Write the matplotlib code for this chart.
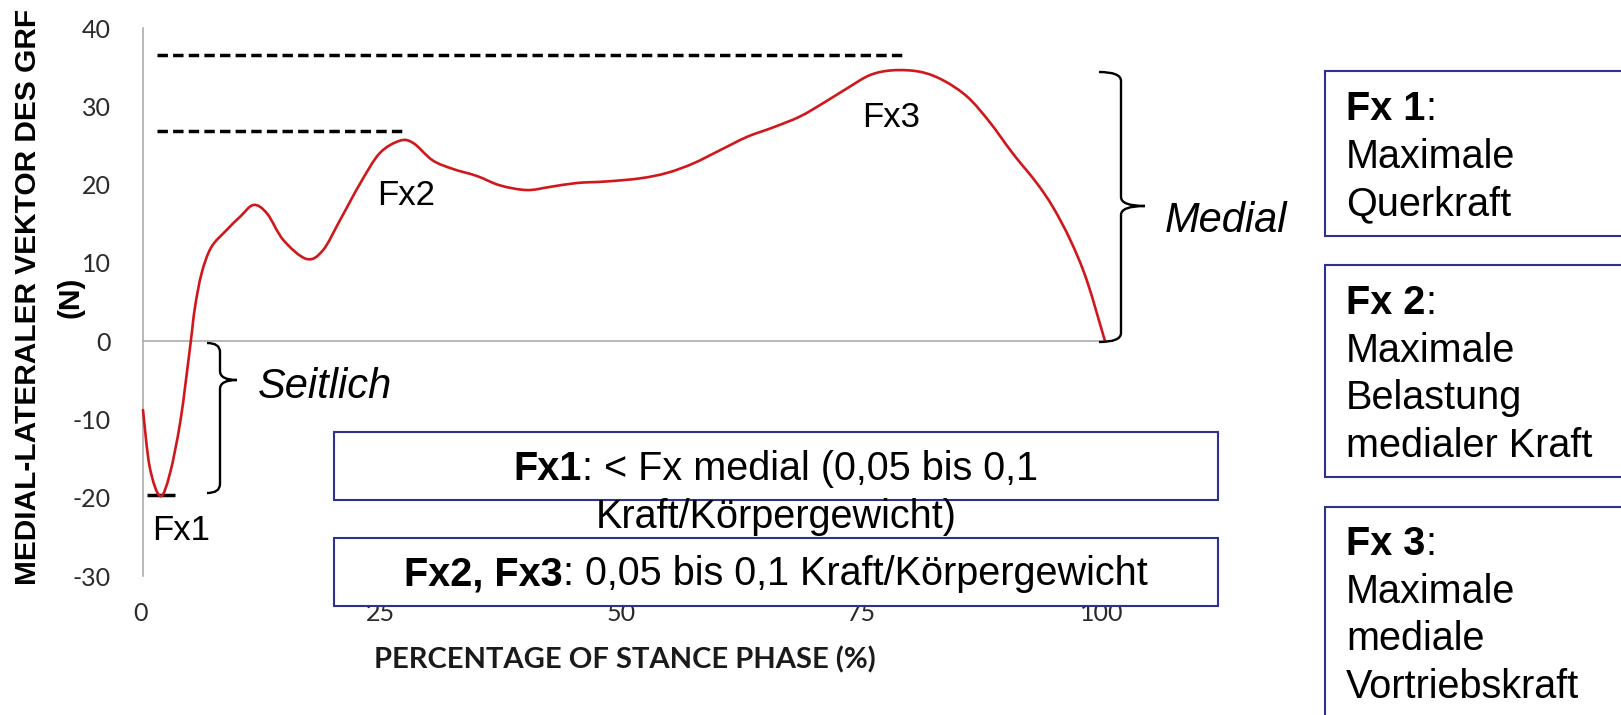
import matplotlib
matplotlib.use("Agg")
import matplotlib.pyplot as plt
import numpy as np
from matplotlib.patches import Rectangle, PathPatch
from matplotlib.path import Path
from matplotlib.transforms import Affine2D, ScaledTranslation

plt.rcParams["axes.unicode_minus"] = False

# Medial-lateral ground reaction force over the stance phase
stance_pct = [0.0, 0.7, 1.8, 2.8, 3.9, 4.9, 5.4, 6.1, 7.1, 8.7, 10.1, 11.5, 12.9,
              14.6, 17.0, 18.7, 20.5, 22.6, 24.6, 26.7, 28.1, 30.1, 32.2, 34.7,
              37.1, 39.9, 42.3, 45.1, 48.2, 51.7, 54.5, 57.2, 60.0, 62.8, 65.5,
              68.3, 70.7, 73.2, 75.6, 78.0, 80.8, 83.2, 85.7, 88.0, 90.4, 92.9,
              94.6, 96.4, 98.1, 100.0]
force_n = [-8.8, -16.1, -19.8, -16.9, -10.1, -0.7, 4.3, 8.7, 12.0, 14.2, 15.9, 17.4,
           16.3, 12.9, 10.5, 11.6, 15.5, 20.2, 24.0, 25.6, 25.3, 23.1, 22.0, 21.1,
           19.9, 19.3, 19.7, 20.2, 20.4, 20.8, 21.5, 22.7, 24.4, 26.1, 27.3,
           28.7, 30.4, 32.3, 34.0, 34.6, 34.4, 33.3, 31.2, 28.0, 24.0, 20.2,
           17.1, 12.9, 7.8, 0.0]

x_ticks = [0, 25, 50, 75, 100]
y_ticks = [-30, -20, -10, 0, 10, 20, 30, 40]

# Reference levels for the three peaks
fx1_level, fx1_span = -19.6, (0.4, 3.3)
fx2_level, fx2_span = 26.8, (1.5, 27.0)
fx3_level, fx3_span = 36.5, (1.5, 78.9)

y_label = "MEDIAL-LATERALER VEKTOR DES GRF"
y_unit = "(N)"
x_label = "PERCENTAGE OF STANCE PHASE (%)"

right_notes = [
    ("Fx 1", ["Maximale", "Querkraft"]),
    ("Fx 2", ["Maximale", "Belastung", "medialer Kraft"]),
    ("Fx 3", ["Maximale", "mediale", "Vortriebskraft"]),
]

W, H = 1621, 715
SANS = "Liberation Sans"
TICKFONT = "Lato"
RED = "#d0181c"
NAVY = "#2e3192"
GRAY = "#a6a6a6"

fig = plt.figure(figsize=(W / 100, H / 100), dpi=100)
fig.patch.set_facecolor("white")
renderer = fig.canvas.get_renderer()

# pixel (from top-left) -> figure fraction
pix = Affine2D().scale(1 / W, -1 / H).translate(0, 1) + fig.transFigure


def fxy(x, y):
    return x / W, 1 - y / H


ax = fig.add_axes([143 / W, 1 - 576 / H, 962 / W, 548 / H])
ax.set_xlim(0, 100)
ax.set_ylim(-30, 40)
for side in ("top", "right", "bottom"):
    ax.spines[side].set_visible(False)
ax.spines["left"].set_color(GRAY)
ax.spines["left"].set_linewidth(1.1)
ax.axhline(0, color=GRAY, lw=1.1, zorder=1)

ax.set_xticks(x_ticks)
ax.set_yticks(y_ticks)
ax.tick_params(axis="both", length=0, labelsize=18, labelcolor="#2a2a2a")
ax.tick_params(axis="y", pad=23)
ax.tick_params(axis="x", pad=19)
for lab in ax.get_xticklabels() + ax.get_yticklabels():
    lab.set_fontfamily(TICKFONT)
shift = ScaledTranslation(-3 / 100, 0, fig.dpi_scale_trans)
for lab in ax.get_xticklabels():
    lab.set_transform(lab.get_transform() + shift)


def smooth_path(xs, ys):
    """Smoothed line through the points (Catmull-Rom drawn as cubic Beziers)."""
    p = np.column_stack([xs, ys]).astype(float)
    n = len(p)
    verts, codes = [p[0]], [Path.MOVETO]
    for i in range(n - 1):
        p0 = p[i - 1] if i > 0 else p[i]
        p1, p2 = p[i], p[i + 1]
        p3 = p[i + 2] if i + 2 < n else p[i + 1]
        verts += [p1 + (p2 - p0) / 6, p2 - (p3 - p1) / 6, p2]
        codes += [Path.CURVE4] * 3
    return Path(verts, codes)


ax.add_patch(PathPatch(smooth_path(stance_pct, force_n), fill=False, edgecolor=RED,
                       lw=1.9, zorder=3, clip_on=False, capstyle="round", joinstyle="round"))

dash = (0, (3.0, 1.5))
ax.hlines(fx3_level, *fx3_span, color="black", lw=2.5, linestyles=[dash])
ax.hlines(fx2_level, *fx2_span, color="black", lw=2.5, linestyles=[dash])
ax.hlines(fx1_level, *fx1_span, color="black", lw=2.5)

# Peak labels
for s, x, y in [("Fx1", 152, 540), ("Fx2", 377, 205), ("Fx3", 862, 127)]:
    fig.text(*fxy(x, y), s, fontsize=25, family=SANS, va="baseline", ha="left")

fig.text(*fxy(258, 398), "Seitlich", fontsize=30, style="italic", family=SANS,
         va="baseline", ha="left")
fig.text(*fxy(1165, 232), "Medial", fontsize=30, style="italic", family=SANS,
         va="baseline", ha="left")


def brace(xa, xb, yt, yb, ym, xt, r=9):
    verts = [(xa, yt), (xb, yt), (xb, yt + r), (xb, ym - r), (xb, ym), (xt, ym),
             (xt, ym), (xb, ym), (xb, ym + r), (xb, yb - r), (xb, yb), (xa, yb)]
    codes = [Path.MOVETO, Path.CURVE3, Path.CURVE3, Path.LINETO, Path.CURVE3, Path.CURVE3,
             Path.MOVETO, Path.CURVE3, Path.CURVE3, Path.LINETO, Path.CURVE3, Path.CURVE3]
    p = PathPatch(Path(verts, codes), transform=pix, fill=False, edgecolor="black",
                  lw=1.7, capstyle="butt")
    fig.add_artist(p)


brace(207, 220, 343, 493, 380, 237)
brace(1099, 1121, 72, 342, 206, 1145)

# Axis titles
fig.text(*fxy(28, 297), y_label, rotation=90, fontsize=21.5, fontweight="bold",
         family=SANS, ha="center", va="center")
fig.text(*fxy(70, 297), y_unit, rotation=90, fontsize=21.5, fontweight="bold",
         family=SANS, ha="center", va="center")
fig.text(*fxy(625, 660), x_label, fontsize=21, fontweight="bold", family=TICKFONT,
         ha="center", va="center", color="#1a1a1a")


def seg_line(segs, x, y, size, ha="left"):
    texts, widths = [], []
    for s, wgt in segs:
        t = fig.text(0, 0, s, fontsize=size, fontweight=wgt, family=SANS,
                     va="baseline", ha="left")
        widths.append(t.get_window_extent(renderer).width)
        texts.append(t)
    x0 = x - sum(widths) / 2 if ha == "center" else x
    for t, wd in zip(texts, widths):
        t.set_position(fxy(x0, y))
        x0 += wd


def box(x0, y0, x1, y1):
    fig.add_artist(Rectangle((x0, y1), x1 - x0, y0 - y1, transform=pix,
                             facecolor="white", edgecolor=NAVY, lw=1.5, zorder=1))


# Middle notes
box(334, 432, 1218, 500)
box(334, 538, 1218, 606)
seg_line([("Fx1", "bold"), (": < Fx medial (0,05 bis 0,1", "normal")], 776, 480, 28.5, "center")
seg_line([("Kraft/Körpergewicht)", "normal")], 776, 528, 28.5, "center")
seg_line([("Fx2, Fx3", "bold"), (": 0,05 bis 0,1 Kraft/Körpergewicht", "normal")],
         776, 585, 28.5, "center")

# Right-hand definitions
box_tops = [71, 265, 507]
box_bottoms = [236, 477, 760]
first_baselines = [120, 314, 555]
for (head, lines), top, bot, b0 in zip(right_notes, box_tops, box_bottoms, first_baselines):
    box(1325, top, 1650, bot)
    seg_line([(head, "bold"), (":", "normal")], 1346, b0, 28.5)
    for i, ln in enumerate(lines):
        seg_line([(ln, "normal")], 1346, b0 + 47.7 * (i + 1), 28.5)

fig.savefig("out.png", dpi=100, facecolor="white")
